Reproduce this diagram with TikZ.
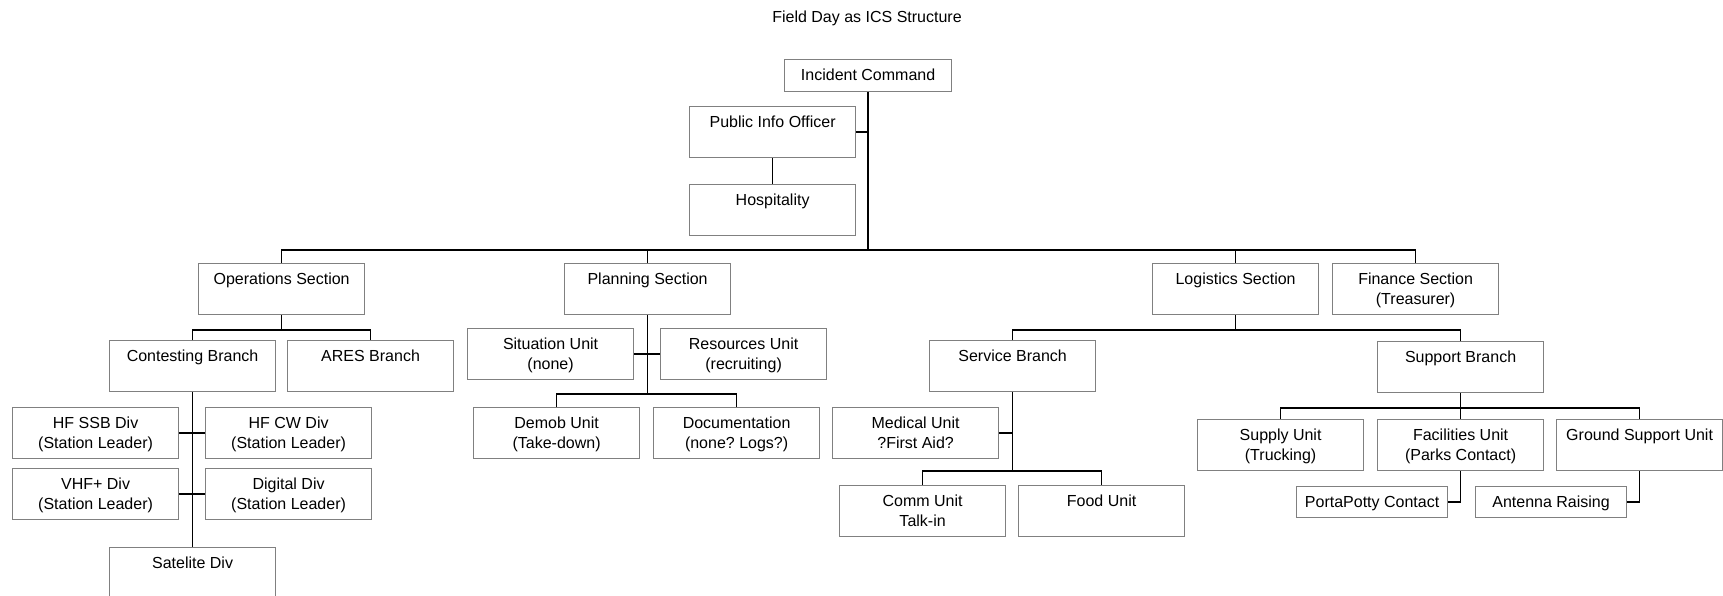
\documentclass[tikz,border=0pt]{standalone}
\usepackage{fontspec}
\setmainfont{Liberation Sans}
\usetikzlibrary{calc}
\definecolor{boxgray}{RGB}{128,128,128}
\frenchspacing

\begin{document}
\begin{tikzpicture}[x=1pt,y=-1pt,
  unit/.style={draw=boxgray,line width=1.2pt,anchor=north west,minimum width=166pt,
    align=center,inner ysep=7pt,text height=14pt,text depth=23pt,
    font=\fontsize{16pt}{20pt}\selectfont},
  twounit/.style={unit,text height=34pt,text depth=3pt},
  smallunit/.style={unit,text depth=3pt,minimum width=151pt},
  wire/.style={line width=1.7pt}]
\useasboundingbox (0,0) rectangle (1723,595);
\fill[white] (0,0) rectangle (1723,595);
\clip (0,0) rectangle (1723,595);

\node[font=\fontsize{16pt}{20pt}\selectfont] (title) at (867,18) {Field Day as ICS Structure};

\node[unit,text depth=4pt,minimum width=167pt] (ic) at (784,59) {Incident Command};
\node[unit] (pio) at (689,106) {Public Info Officer};
\node[unit] (hosp) at (689,184) {Hospitality};

\node[unit] (ops) at (198,263) {Operations Section};
\node[unit] (plan) at (564,263) {Planning Section};
\node[unit] (logi) at (1152,263) {Logistics Section};
\node[twounit] (fin) at (1332,263) {Finance Section\\(Treasurer)};

\node[unit] (cont) at (109,340) {Contesting Branch};
\node[unit] (ares) at (287,340) {ARES Branch};
\node[twounit] (hfssb) at (12,407) {HF SSB Div\\(Station Leader)};
\node[twounit] (hfcw) at (205,407) {HF CW Div\\(Station Leader)};
\node[twounit] (vhf) at (12,468) {VHF+ Div\\(Station Leader)};
\node[twounit] (digi) at (205,468) {Digital Div\\(Station Leader)};
\node[unit] (sat) at (109,547) {Satelite Div};

\node[twounit] (sit) at (467,328) {Situation Unit\\(none)};
\node[twounit] (res) at (660,328) {Resources Unit\\(recruiting)};
\node[twounit] (demob) at (473,407) {Demob Unit\\(Take-down)};
\node[twounit] (docu) at (653,407) {Documentation\\(none? Logs?)};

\node[unit] (serv) at (929,340) {Service Branch};
\node[twounit] (med) at (832,407) {Medical Unit\\?First Aid?};
\node[twounit] (comm) at (839,485) {Comm Unit\\Talk-in};
\node[unit] (food) at (1018,485) {Food Unit};

\node[unit] (supp) at (1377,341) {Support Branch};
\node[twounit] (suppl) at (1197,419) {Supply Unit\\(Trucking)};
\node[twounit] (fac) at (1377,419) {Facilities Unit\\(Parks Contact)};
\node[unit] (gnd) at (1556,419) {Ground Support Unit};
\node[smallunit] (potty) at (1296,486) {PortaPotty Contact};
\node[smallunit] (ant) at (1475,486) {Antenna Raising};

\draw[wire] (ic.south) -- ++(0,158) coordinate (icbus);
\draw[wire] (ops.north) |- (icbus) -| (fin.north);
\draw[wire] (plan.north) -- (plan.north |- icbus);
\draw[wire] (logi.north) -- (logi.north |- icbus);
\draw[wire] (pio.east) -- (pio.east -| ic.south);
\draw[wire] (pio) -- (hosp);

\draw[wire] (ops.south) -- ++(0,15) coordinate (opsbus);
\draw[wire] (cont.north) |- (opsbus) -| (ares.north);
\draw[wire] (cont) -- (sat);
\draw[wire] (hfssb) -- (hfcw);
\draw[wire] (vhf) -- (digi);

\draw[wire] (plan.south) -- ++(0,79) coordinate (planbus);
\draw[wire] (sit) -- (res);
\draw[wire] (demob.north) |- (planbus) -| (docu.north);

\draw[wire] (logi.south) -- ++(0,15) coordinate (logbus);
\draw[wire] (serv.north) |- (logbus) -| (supp.north);
\draw[wire] (serv.south) -- ++(0,79) coordinate (servbus);
\draw[wire] (med.east) -- (med.east -| serv.south);
\draw[wire] (comm.north) |- (servbus) -| (food.north);

\draw[wire] (supp.south) -- ++(0,15) coordinate (suppbus);
\draw[wire] (suppl.north) |- (suppbus) -| (gnd.north);
\draw[wire] (suppbus) -- (fac.north);
\draw[wire] (fac.south) |- (potty.east);
\draw[wire] (gnd.south) |- (ant.east);
\end{tikzpicture}
\end{document}
